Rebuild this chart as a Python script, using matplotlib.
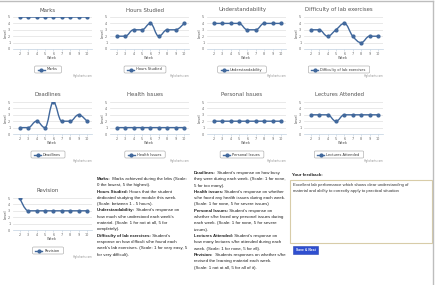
import matplotlib
matplotlib.use("Agg")
import matplotlib.pyplot as plt
from matplotlib.path import Path
from matplotlib.patches import PathPatch, FancyBboxPatch, Rectangle
from matplotlib.lines import Line2D
from matplotlib.transforms import Affine2D

W, H = 436, 285

weeks = [2, 3, 4, 5, 6, 7, 8, 9, 10]
marks = [5, 5, 5, 5, 5, 5, 5, 5, 5]
hours_studied = [2, 2, 3, 3, 4, 2, 3, 3, 4]
understandability = [4, 4, 4, 4, 3, 3, 4, 4, 4]
difficulty = [3, 3, 2, 3, 4, 2, 1, 2, 2]
deadlines = [1, 1, 2, 1, 5, 2, 2, 3, 2]
health_issues = [1, 1, 1, 1, 1, 1, 1, 1, 1]
personal_issues = [2, 2, 2, 2, 2, 2, 2, 2, 2]
lectures_attended = [3, 3, 3, 2, 3, 3, 3, 3, 3]
revision = [5, 3, 3, 3, 3, 3, 3, 3, 3]

charts = [
    ("Marks", marks), ("Hours Studied", hours_studied),
    ("Understandability", understandability), ("Difficulty of lab exercises", difficulty),
    ("Deadlines", deadlines), ("Health Issues", health_issues),
    ("Personal Issues", personal_issues), ("Lectures Attended", lectures_attended),
    ("Revision", revision),
]

notes_left = [
    [("Marks:", True), (" Marks achieved during the labs (Scale:", False)],
    [("0 the lowest, 5 the highest).", False)],
    [("Hours Studied:", True), (" Hours that the student", False)],
    [("dedicated studying the module this week.", False)],
    [("(Scale: between 1 - 5 hours).", False)],
    [("Understandability:", True), (" Student's response on", False)],
    [("how much s/he understood each week's", False)],
    [("material. (Scale: 1 for not at all, 5 for", False)],
    [("completely).", False)],
    [("Difficulty of lab exercises:", True), (" Student's", False)],
    [("response on how difficult s/he found each", False)],
    [("week's lab exercises. (Scale: 1 for very easy, 5", False)],
    [("for very difficult).", False)],
]
notes_right = [
    [("Deadlines:", True), (" Student's response on how busy", False)],
    [("they were during each week. (Scale: 1 for none,", False)],
    [("5 for too many).", False)],
    [("Health issues:", True), (" Student's response on whether", False)],
    [("s/he faced any health issues during each week.", False)],
    [("(Scale: 1 for none, 5 for severe issues)", False)],
    [("Personal Issues:", True), (" Student's response on", False)],
    [("whether s/he faced any personal issues during", False)],
    [("each week. (Scale: 1 for none, 5 for severe", False)],
    [("issues).", False)],
    [("Lectures Attended:", True), (" Student's response on", False)],
    [("how many lectures s/he attended during each", False)],
    [("week. (Scale: 1 for none, 5 for all).", False)],
    [("Revision:", True), (" Students responses on whether s/he", False)],
    [("revised the learning material each week.", False)],
    [("(Scale: 1 not at all, 5 for all of it).", False)],
]
feedback_lines = [
    "Excellent lab performance which shows clear understanding of",
    "material and ability to correctly apply to practical situation",
]

LINE = "#41689c"


def spline_path(xs, ys):
    # highcharts style spline control points
    sm = 1.5
    den = sm + 1
    n = len(xs)
    lc = [None] * n
    rc = [None] * n
    for i in range(1, n - 1):
        x, y = xs[i], ys[i]
        lx, ly = xs[i - 1], ys[i - 1]
        nx, ny = xs[i + 1], ys[i + 1]
        lcx, lcy = (sm * x + lx) / den, (sm * y + ly) / den
        rcx, rcy = (sm * x + nx) / den, (sm * y + ny) / den
        corr = ((rcy - lcy) * (rcx - x)) / (rcx - lcx) + y - rcy
        lcy += corr
        rcy += corr
        if lcy > ly and lcy > y:
            lcy = max(ly, y)
            rcy = 2 * y - lcy
        elif lcy < ly and lcy < y:
            lcy = min(ly, y)
            rcy = 2 * y - lcy
        if rcy > ny and rcy > y:
            rcy = max(ny, y)
            lcy = 2 * y - rcy
        elif rcy < ny and rcy < y:
            rcy = min(ny, y)
            lcy = 2 * y - rcy
        lc[i] = (lcx, lcy)
        rc[i] = (rcx, rcy)
    verts = [(xs[0], ys[0])]
    codes = [Path.MOVETO]
    for i in range(1, n):
        c1 = rc[i - 1] if rc[i - 1] else (xs[i - 1], ys[i - 1])
        c2 = lc[i] if lc[i] else (xs[i], ys[i])
        verts += [c1, c2, (xs[i], ys[i])]
        codes += [Path.CURVE4] * 3
    return Path(verts, codes)


fig = plt.figure(figsize=(W / 100, H / 100), dpi=100)
fig.patch.set_facecolor("white")
T = Affine2D().scale(1 / W, -1 / H).translate(0, 1) + fig.transFigure
renderer = fig.canvas.get_renderer()
plt.rcParams["font.family"] = "DejaVu Sans"


def draw_chart(x0, top, title, vals):
    ax = fig.add_axes([(x0 + 13) / W, 1 - (top + 32) / H, 79 / W, 32 / H])
    ax.add_patch(PathPatch(spline_path(weeks, vals), fill=False, edgecolor=LINE, lw=1.0))
    ax.plot(weeks, vals, "o", ms=2.0, color=LINE, mec=LINE)
    ax.set_xlim(1.2, 10.6)
    ax.set_ylim(0, 5)
    ax.set_yticks(range(6))
    ax.set_xticks(weeks)
    ax.grid(axis="y", color="#e0e0e0", lw=0.5)
    ax.set_axisbelow(True)
    for s in ["top", "right", "left"]:
        ax.spines[s].set_visible(False)
    ax.spines["bottom"].set_color("#c0d0e0")
    ax.spines["bottom"].set_linewidth(0.5)
    ax.tick_params(axis="y", length=0, labelsize=2.4, labelcolor="#666666", pad=2)
    ax.tick_params(axis="x", length=1.2, width=0.4, color="#c0d0e0", labelsize=2.4,
                   labelcolor="#666666", pad=1)
    ax.patch.set_alpha(0)
    fig.text(x0 + 48, top - 7, title, transform=T, ha="center", va="center",
             fontsize=3.9, color="#555555")
    fig.text(x0 + 52, top + 41, "Week", transform=T, ha="center", va="center",
             fontsize=2.6, color="#4d4d4d")
    fig.text(x0 + 6, top + 16, "Level", transform=T, ha="center", va="center",
             rotation=90, fontsize=2.6, color="#4d4d4d")
    # legend
    t = fig.text(0, 0, title, transform=T, fontsize=2.6, color="#333333",
                 ha="left", va="center")
    tw = t.get_window_extent(renderer).width
    bw = tw + 16
    bx = x0 + 48 - bw / 2
    by = top + 52.5
    t.set_position((bx + 12, by))
    fig.add_artist(FancyBboxPatch((bx, by - 3.5), bw, 7, boxstyle="round,pad=0,rounding_size=1.2",
                                  transform=T, facecolor="white", edgecolor="#a0a0a0", lw=0.4,
                                  zorder=1))
    t.set_zorder(3)
    fig.add_artist(Line2D([bx + 3, bx + 10], [by, by], transform=T, color=LINE, lw=1.0,
                          zorder=2))
    fig.add_artist(Line2D([bx + 6.5], [by], transform=T, color=LINE, marker="o", ms=2.0,
                          zorder=2))
    fig.text(x0 + 92, top + 59, "Highcharts.com", transform=T, ha="right", va="center",
             fontsize=1.8, color="#909090")


col_x = [0, 97, 194, 291]
row_top = [17, 102, 198]
for i, (title, vals) in enumerate(charts):
    r, c = divmod(i, 4)
    draw_chart(col_x[c], row_top[r], title, vals)


def draw_notes(x, y0, lines, step=6.3):
    for k, segs in enumerate(lines):
        cx = x
        y = y0 + k * step
        for txt, bold in segs:
            t = fig.text(cx, y, txt, transform=T, ha="left", va="center", fontsize=3.2,
                         family="Liberation Sans", weight="bold" if bold else "normal",
                         color="#222222")
            cx += t.get_window_extent(renderer).width


draw_notes(97, 179, notes_left)
draw_notes(194, 173, notes_right)

# feedback panel
fig.text(292, 175, "Your feedback:", transform=T, ha="left", va="center", fontsize=3.2,
         family="Liberation Sans", weight="bold", color="#222222")
fig.add_artist(Rectangle((290, 179.5), 142, 63, transform=T, facecolor="white",
                         edgecolor="#d8cca8", lw=0.8))
for k, s in enumerate(feedback_lines):
    fig.text(293, 185 + k * 6, s, transform=T, ha="left", va="center", fontsize=3.1,
             family="Liberation Sans", color="#333333")
fig.add_artist(Rectangle((293, 246), 25, 7.5, transform=T, facecolor="#2f4fd0",
                         edgecolor="#2a44b0", lw=0.4))
fig.text(305.5, 249.8, "Save & Next", transform=T, ha="center", va="center", fontsize=2.4,
         family="Liberation Sans", weight="bold", color="white")

# page border
fig.add_artist(Line2D([0, 433], [1, 1], transform=T, color="#bdbdbd", lw=1.0))
fig.add_artist(Line2D([433, 433], [1, 285], transform=T, color="#bdbdbd", lw=1.0))

fig.savefig("out.png", dpi=100, facecolor="white")
